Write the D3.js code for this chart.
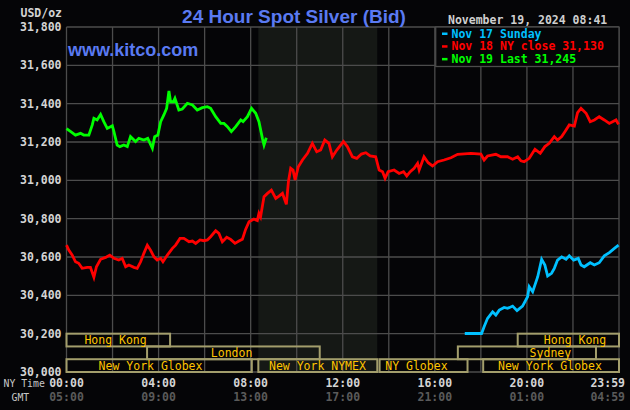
<!DOCTYPE html>
<html>
<head>
<meta charset="utf-8">
<script src="https://cdn.jsdelivr.net/npm/d3@7"></script>
<style>
  html, body { margin: 0; padding: 0; background: #050507; }
  svg { display: block; }
</style>
</head>
<body>
<div id="chart"></div>
<script>
// hours after NY midnight, price in USD/oz
const nov17Sunday = [
  [17.30, 30201], [18.03, 30201], [18.14, 30236], [18.29, 30280], [18.51, 30314], [18.65, 30297],
  [18.80, 30323], [19.01, 30337], [19.16, 30332], [19.38, 30344], [19.57, 30320], [19.81, 30344],
  [20.03, 30393], [20.10, 30445], [20.25, 30419], [20.47, 30497], [20.64, 30588], [20.78, 30558],
  [20.90, 30501], [21.07, 30515], [21.19, 30541], [21.33, 30584], [21.51, 30601], [21.70, 30588],
  [21.84, 30606], [22.03, 30584], [22.23, 30593], [22.35, 30558], [22.49, 30549], [22.75, 30570],
  [22.93, 30558], [23.14, 30570], [23.36, 30606], [23.58, 30623], [23.80, 30645], [23.98, 30662]
];

const nov18Close = [
  [0.00, 30662], [0.10, 30636], [0.25, 30610], [0.39, 30575], [0.53, 30567], [0.68, 30541],
  [0.90, 30546], [1.04, 30546], [1.19, 30494], [1.30, 30549], [1.48, 30588], [1.70, 30598],
  [1.88, 30610], [2.06, 30593], [2.27, 30584], [2.42, 30593], [2.57, 30549], [2.71, 30558],
  [2.93, 30546], [3.07, 30541], [3.22, 30575], [3.36, 30619], [3.51, 30662], [3.65, 30636],
  [3.80, 30601], [3.94, 30584], [4.09, 30593], [4.19, 30575], [4.38, 30610], [4.60, 30645],
  [4.74, 30662], [4.93, 30697], [5.10, 30697], [5.32, 30680], [5.47, 30683], [5.61, 30671],
  [5.80, 30689], [5.97, 30685], [6.12, 30689], [6.26, 30706], [6.48, 30737], [6.62, 30723],
  [6.77, 30680], [6.96, 30703], [7.13, 30692], [7.32, 30671], [7.49, 30683], [7.64, 30692],
  [7.78, 30744], [7.93, 30784], [8.14, 30798], [8.29, 30790], [8.36, 30828], [8.43, 30810],
  [8.58, 30915], [8.73, 30932], [8.90, 30949], [9.09, 30906], [9.23, 30918], [9.38, 30932],
  [9.55, 30875], [9.64, 30993], [9.74, 31063], [9.84, 31054], [9.93, 31002], [10.07, 31071],
  [10.25, 31106], [10.47, 31141], [10.68, 31193], [10.87, 31149], [11.04, 31158], [11.22, 31210],
  [11.40, 31193], [11.55, 31123], [11.74, 31158], [12.03, 31202], [12.20, 31176], [12.42, 31123],
  [12.61, 31115], [12.81, 31137], [13.00, 31144], [13.19, 31127], [13.43, 31123], [13.58, 31054],
  [13.73, 31045], [13.84, 31010], [13.97, 31045], [14.23, 31054], [14.45, 31036], [14.64, 31045],
  [14.78, 31023], [14.93, 31045], [15.10, 31063], [15.25, 31089], [15.32, 31054], [15.53, 31123],
  [15.71, 31092], [15.90, 31075], [16.12, 31097], [16.40, 31106], [16.70, 31118], [16.99, 31136],
  [17.13, 31137], [17.57, 31141], [18.00, 31137], [18.14, 31106], [18.29, 31127], [18.65, 31136],
  [18.87, 31123], [19.16, 31123], [19.38, 31110], [19.60, 31123], [19.74, 31102], [19.88, 31097],
  [20.10, 31115], [20.35, 31162], [20.58, 31141], [20.78, 31176], [20.97, 31193], [21.19, 31228],
  [21.33, 31210], [21.51, 31228], [21.65, 31254], [21.84, 31289], [22.06, 31283], [22.20, 31353],
  [22.35, 31376], [22.57, 31350], [22.75, 31306], [22.93, 31315], [23.14, 31332], [23.36, 31315],
  [23.58, 31297], [23.87, 31315], [23.98, 31292]
];

const nov19Last = [
  [0.00, 31270], [0.17, 31255], [0.39, 31236], [0.61, 31245], [0.75, 31236], [0.97, 31236],
  [1.12, 31289], [1.19, 31324], [1.33, 31315], [1.48, 31344], [1.62, 31306], [1.77, 31271],
  [1.99, 31285], [2.06, 31254], [2.20, 31184], [2.32, 31176], [2.49, 31184], [2.64, 31176],
  [2.78, 31228], [3.00, 31202], [3.14, 31219], [3.36, 31210], [3.53, 31219], [3.73, 31167],
  [3.83, 31228], [3.97, 31236], [4.09, 31306], [4.23, 31341], [4.35, 31376], [4.45, 31466],
  [4.52, 31410], [4.64, 31410], [4.71, 31428], [4.88, 31367], [5.03, 31372], [5.25, 31402],
  [5.47, 31393], [5.68, 31367], [5.90, 31379], [6.12, 31384], [6.26, 31376], [6.48, 31332],
  [6.70, 31297], [6.84, 31297], [6.99, 31280], [7.16, 31254], [7.35, 31280], [7.57, 31315],
  [7.67, 31306], [7.86, 31332], [8.04, 31376], [8.22, 31350], [8.36, 31306], [8.51, 31219],
  [8.58, 31184], [8.68, 31222]
];

const legendLabels = ["Nov 17 Sunday", "Nov 18 NY close 31,130", "Nov 19 Last 31,245"];
const priceTicks = [30000, 30200, 30400, 30600, 30800, 31000, 31200, 31400, 31600, 31800];
const hourTicks = [0, 4, 8, 12, 16, 20, 24];
const nyTimeLabels = ["00:00", "04:00", "08:00", "12:00", "16:00", "20:00", "23:59"];
const gmtLabels = ["05:00", "09:00", "13:00", "17:00", "21:00", "01:00", "04:59"];
const nymexHours = [8.333, 13.5];

// trading sessions: row 0 top, row 2 bottom
const sessions = [
  { name: "Hong Kong", start: 0, end: 4.5, row: 0, labelAt: 2.13 },
  { name: "London", start: 3.5, end: 11.0, row: 1, labelAt: 7.17 },
  { name: "New York Globex", start: 0, end: 8.05, row: 2, labelAt: 3.65 },
  { name: "New York NYMEX", start: 8.333, end: 13.5, row: 2, labelAt: 10.9 },
  { name: "NY Globex", start: 13.6, end: 17.42, row: 2, labelAt: 15.2 },
  { name: "New York Globex", start: 18.1, end: 24, row: 2, labelAt: 21.0 },
  { name: "Sydney", start: 17.0, end: 23.0, row: 1, labelAt: 21.02 },
  { name: "Hong Kong", start: 19.6, end: 24, row: 0, labelAt: 22.09 }
];

const width = 630, height = 410;
const mono = "'DejaVu Sans Mono', monospace";
const blue = "#5a7af2";
const colors = ["#00c0ff", "#ff0000", "#00ff00"];

const x = d3.scaleLinear().domain([0, 24]).range([66.5, 619]);
const y = d3.scaleLinear().domain([30000, 31800]).range([372, 27]);

const svg = d3.select("#chart").append("svg")
  .attr("width", width)
  .attr("height", height);

svg.append("rect")
  .attr("width", width)
  .attr("height", height)
  .attr("fill", "#050507");

// NYMEX trading hours shading
svg.append("rect")
  .attr("x", x(nymexHours[0]))
  .attr("y", y(31800))
  .attr("width", x(nymexHours[1]) - x(nymexHours[0]))
  .attr("height", y(30000) - y(31800))
  .attr("fill", "#151815");

// grid
const grid = svg.append("g").attr("stroke", "#4c4c4c").attr("stroke-width", 1.3);
grid.selectAll(".hgrid")
  .data(priceTicks)
  .join("line")
  .attr("class", "hgrid")
  .attr("x1", x(0)).attr("x2", x(24))
  .attr("y1", d => y(d)).attr("y2", d => y(d));
grid.selectAll(".vgrid")
  .data(d3.range(0, 25, 2))
  .join("line")
  .attr("class", "vgrid")
  .attr("x1", d => x(d)).attr("x2", d => x(d))
  .attr("y1", y(31800)).attr("y2", y(30000));

// trading session boxes
const rowH = 200 / 3;
const sess = svg.append("g");
sess.selectAll("rect")
  .data(sessions)
  .join("rect")
  .attr("x", d => x(d.start))
  .attr("y", d => y(30200 - d.row * rowH))
  .attr("width", d => x(d.end) - x(d.start))
  .attr("height", d => y(30200 - (d.row + 1) * rowH) - y(30200 - d.row * rowH))
  .attr("fill", "none")
  .attr("stroke", "#a39e6c")
  .attr("stroke-width", 2);
sess.selectAll("text")
  .data(sessions)
  .join("text")
  .attr("x", d => x(d.labelAt))
  .attr("y", d => y(30200 - (d.row + 1) * rowH) - 2.5)
  .attr("text-anchor", "middle")
  .attr("font-family", mono)
  .attr("font-size", "11.5px")
  .attr("fill", "#ffc400")
  .text(d => d.name);

// price lines
const line = d3.line()
  .x(d => x(d[0]))
  .y(d => y(d[1]));

[nov17Sunday, nov18Close, nov19Last].forEach((series, i) => {
  svg.append("path")
    .datum(series)
    .attr("d", line)
    .attr("fill", "none")
    .attr("stroke", colors[i])
    .attr("stroke-width", 2.8)
    .attr("stroke-linejoin", "miter");
});

// y axis labels
svg.selectAll(".ytick")
  .data(priceTicks)
  .join("text")
  .attr("class", "ytick")
  .attr("x", 61.5)
  .attr("y", d => y(d))
  .attr("dy", "0.36em")
  .attr("text-anchor", "end")
  .attr("font-family", mono)
  .attr("font-weight", "bold")
  .attr("font-size", "11.5px")
  .attr("fill", "#d4d4d4")
  .text(d => d3.format(",")(d));

svg.append("text")
  .attr("x", 20.5).attr("y", 16.5)
  .attr("font-family", mono)
  .attr("font-weight", "bold")
  .attr("font-size", "11.5px")
  .attr("fill", "#d4d4d4")
  .text("USD/oz");

// x axis labels
svg.selectAll(".xtick")
  .data(hourTicks)
  .join("text")
  .attr("class", "xtick")
  .attr("x", d => d === 24 ? 625 : x(d))
  .attr("y", 387)
  .attr("text-anchor", d => d === 24 ? "end" : "middle")
  .attr("font-family", mono)
  .attr("font-weight", "bold")
  .attr("font-size", "11.5px")
  .attr("fill", "#d4d4d4")
  .text((d, i) => nyTimeLabels[i]);

svg.selectAll(".gmttick")
  .data(hourTicks)
  .join("text")
  .attr("class", "gmttick")
  .attr("x", d => d === 24 ? 625 : x(d))
  .attr("y", 401)
  .attr("text-anchor", d => d === 24 ? "end" : "middle")
  .attr("font-family", mono)
  .attr("font-weight", "bold")
  .attr("font-size", "11.5px")
  .attr("fill", "#5a5a5a")
  .text((d, i) => gmtLabels[i]);

svg.append("text")
  .attr("x", 3.5).attr("y", 387)
  .attr("font-family", mono)
  .attr("font-size", "9.8px")
  .attr("fill", "#c8c8c8")
  .text("NY Time");
svg.append("text")
  .attr("x", 11.5).attr("y", 400.5)
  .attr("font-family", mono)
  .attr("font-size", "9.8px")
  .attr("fill", "#c8c8c8")
  .text("GMT");

// titles
svg.append("text")
  .attr("x", 294).attr("y", 22.5)
  .attr("text-anchor", "middle")
  .attr("font-family", "'Liberation Sans', Arial, sans-serif")
  .attr("font-weight", "bold")
  .attr("font-size", "19px")
  .attr("fill", blue)
  .text("24 Hour Spot Silver (Bid)");

svg.append("text")
  .attr("x", 68).attr("y", 56)
  .attr("font-family", "'Liberation Sans', Arial, sans-serif")
  .attr("font-weight", "bold")
  .attr("font-size", "18px")
  .attr("fill", blue)
  .text("www.kitco.com");

svg.append("text")
  .attr("x", 448).attr("y", 23.5)
  .attr("font-family", mono)
  .attr("font-weight", "bold")
  .attr("font-size", "11.5px")
  .attr("fill", "#cfcfcf")
  .text("November 19, 2024 08:41");

// legend
const legend = svg.append("g");
legend.append("rect")
  .attr("x", 435.7).attr("y", y(31800))
  .attr("width", x(24) - 435.7)
  .attr("height", 39.5)
  .attr("fill", "#050507")
  .attr("stroke", "#4c4c4c")
  .attr("stroke-width", 1.3);
legendLabels.forEach((label, i) => {
  legend.append("rect")
    .attr("x", 442).attr("y", 32.5 + i * 12.7)
    .attr("width", 5.5).attr("height", 2.5)
    .attr("fill", colors[i]);
  legend.append("text")
    .attr("x", 451.5).attr("y", 37.5 + i * 12.7)
    .attr("font-family", mono)
    .attr("font-weight", "bold")
    .attr("font-size", "11.5px")
    .attr("fill", colors[i])
    .text(label);
});
</script>
</body>
</html>
